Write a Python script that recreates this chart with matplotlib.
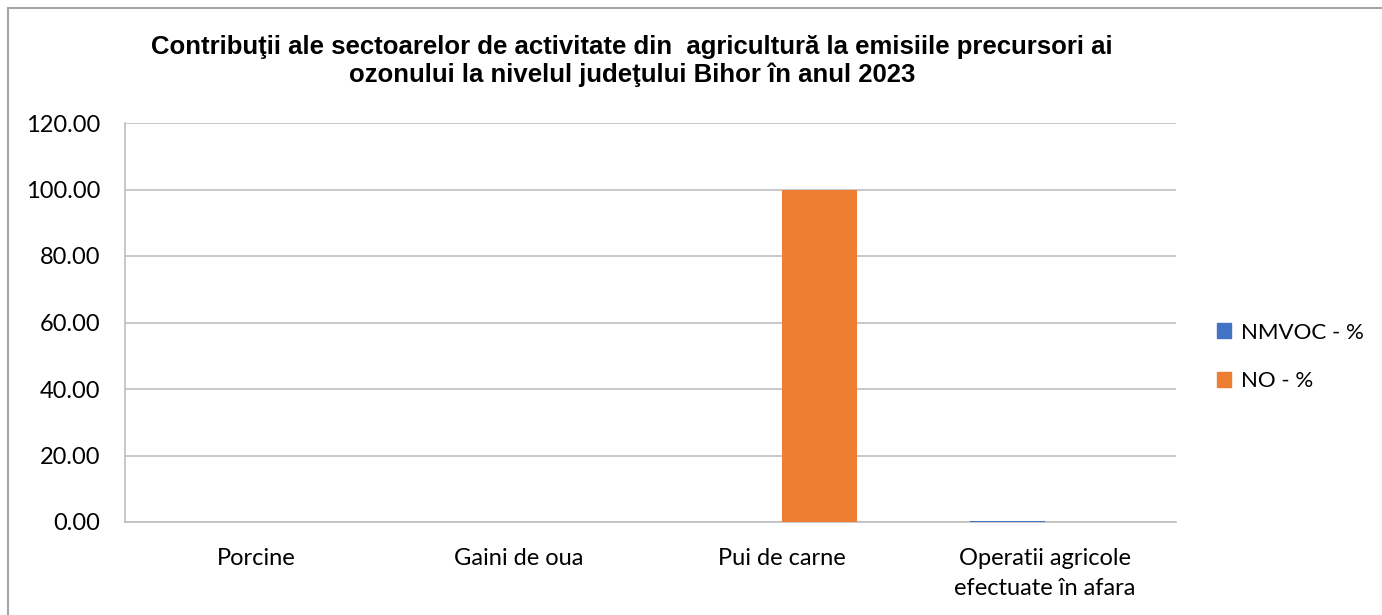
import numpy as np
import matplotlib.pyplot as plt
from matplotlib.patches import Rectangle, Patch

# data
categories = ['Porcine', 'Gaini de oua', 'Pui de carne', 'Operatii agricole\nefectuate în afara']
nmvoc = [0.0, 0.0, 0.0, 0.3]
no = [0.0, 0.0, 100.0, 0.0]
series_names = ['NMVOC - %', 'NO - %']
yticks = [0, 20, 40, 60, 80, 100, 120]

blue = '#4472C4'
orange = '#ED7D31'
grid_col = '#BFBFBF'

plt.rcParams['font.family'] = ['Lato', 'DejaVu Sans']
fs = 17

fig = plt.figure(figsize=(13.82, 6.15), dpi=100)
ax = fig.add_axes([125/1382, 93/615, 1051/1382, 399/615])

x = np.arange(len(categories))
w = 0.285
ax.bar(x - w/2, nmvoc, w, color=blue, zorder=3)
ax.bar(x + w/2, no, w, color=orange, zorder=3)

ax.set_xlim(-0.5, len(categories) - 0.5)
ax.set_ylim(0, 120)
ax.set_yticks(yticks)
ax.set_yticklabels(['%.2f' % v for v in yticks], fontsize=fs)
ax.set_xticks(x)
ax.set_xticklabels(categories, fontsize=fs, linespacing=1.5)
ax.tick_params(axis='both', length=0, colors='black')
ax.tick_params(axis='y', pad=18)
ax.tick_params(axis='x', pad=19)
ax.yaxis.grid(True, color=grid_col, linewidth=1.2, zorder=0)

for s in ['top', 'right']:
    ax.spines[s].set_visible(False)
ax.spines['left'].set_color(grid_col)
ax.spines['bottom'].set_color(grid_col)
ax.spines['left'].set_linewidth(1.2)
ax.spines['bottom'].set_linewidth(1.2)

fig.text(632/1382, 1 - 61/615,
         'Contribuţii ale sectoarelor de activitate din  agricultură la emisiile precursori ai\n'
         'ozonului la nivelul judeţului Bihor în anul 2023',
         ha='center', va='center', fontsize=18.5, fontweight='bold',
         family=['Liberation Sans', 'DejaVu Sans'], linespacing=1.13)

handles = [Patch(color=blue), Patch(color=orange)]
fig.legend(handles, series_names, loc='center left', bbox_to_anchor=(1197/1382, 1 - 357/615),
           frameon=False, fontsize=16, handlelength=0.65, handleheight=0.65,
           handletextpad=0.45, labelspacing=1.3)

# outer chart border (only top and left edges are inside the picture)
fig.patches.append(Rectangle((8/1382, -0.5), 2, 1.5 - 8/615, transform=fig.transFigure,
                             fill=False, edgecolor='#A6A6A6', linewidth=1.5))

fig.savefig('out.png', dpi=100)
